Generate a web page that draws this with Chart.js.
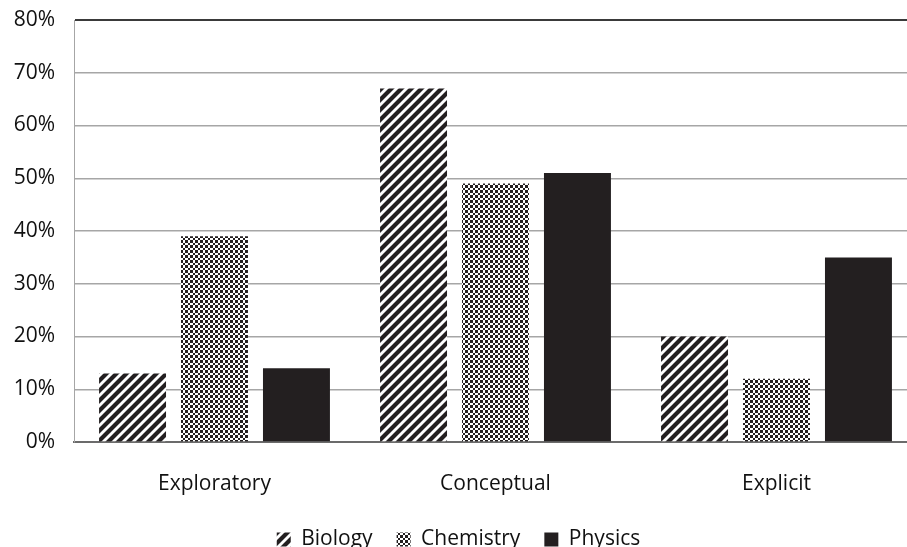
<!DOCTYPE html>
<html>
<head>
<meta charset="utf-8">
<script src="https://cdn.jsdelivr.net/npm/chart.js@4"></script>
<style>
  html, body { margin: 0; padding: 0; background: #fff; overflow: hidden; width: 907px; height: 547px; }
  #wrap { position: absolute; left: 0; top: 0; width: 920px; height: 547px; }
</style>
</head>
<body>
<div id="wrap"><canvas id="c" width="920" height="547"></canvas></div>
<script>
const categories = ['Exploratory', 'Conceptual', 'Explicit'];
const seriesNames = ['Biology', 'Chemistry', 'Physics'];
const biology = [13, 67, 20];
const chemistry = [39, 49, 12];
const physics = [14, 51, 35];
const yTicks = [0, 10, 20, 30, 40, 50, 60, 70, 80];

const INK = '#231f20';

function stripePattern() {
  const P = 10;
  const t = document.createElement('canvas');
  t.width = P; t.height = P;
  const g = t.getContext('2d');
  g.fillStyle = '#fff'; g.fillRect(0, 0, P, P);
  g.strokeStyle = INK; g.lineWidth = 4.2; g.lineCap = 'square';
  g.beginPath();
  g.moveTo(-1, P + 1); g.lineTo(P + 1, -1);
  g.moveTo(-P / 2, P / 2); g.lineTo(P / 2, -P / 2);
  g.moveTo(P / 2, P * 1.5); g.lineTo(P * 1.5, P / 2);
  g.stroke();
  return g.createPattern(t, 'repeat');
}
function checkerPattern() {
  const t = document.createElement('canvas');
  t.width = 10; t.height = 10;
  const g = t.getContext('2d');
  g.fillStyle = '#fff'; g.fillRect(0, 0, 10, 10);
  const b = [[0, 3], [3, 2], [5, 3], [8, 2]];
  for (let i = 0; i < 4; i++) for (let j = 0; j < 4; j++) {
    if ((i + j) % 2 === 0) {
      g.fillStyle = INK;
      g.fillRect(b[i][0], b[j][0], b[i][1], b[j][1]);
    }
  }
  return g.createPattern(t, 'repeat');
}

const FONT = '"Open Sans", Lato, sans-serif';
const TEXT = '#111';

new Chart(document.getElementById('c'), {
  type: 'bar',
  data: {
    labels: categories,
    datasets: [
      { label: seriesNames[0], data: biology, backgroundColor: stripePattern(), borderWidth: 0 },
      { label: seriesNames[1], data: chemistry, backgroundColor: checkerPattern(), borderWidth: 0 },
      { label: seriesNames[2], data: physics, backgroundColor: INK, borderWidth: 0 }
    ]
  },
  options: {
    responsive: false,
    animation: false,
    devicePixelRatio: 1,
    categoryPercentage: 0.875,
    barPercentage: 0.817,
    layout: { padding: { left: 0, right: 3, top: 20, bottom: 0 } },
    plugins: {
      tooltip: { enabled: false },
      legend: {
        position: 'bottom',
        maxHeight: 42,
        labels: {
          font: { family: FONT, size: 21 },
          color: TEXT,
          boxWidth: 14,
          boxHeight: 14,
          padding: 24
        }
      }
    },
    scales: {
      x: {
        grid: { display: false, drawTicks: false },
        border: { display: true, color: '#6b6b6b', width: 2 },
        ticks: { font: { family: FONT, size: 21 }, color: TEXT, padding: 29 },
        afterFit: (s) => { s.height = 63; s.paddingTop = 0; }
      },
      y: {
        min: 0, max: 80,
        afterBuildTicks: (s) => { s.ticks = yTicks.map(v => ({ value: v })); },
        grid: {
          drawTicks: false,
          color: (ctx) => ctx.tick && ctx.tick.value === 80 ? '#3a3a3a' : (ctx.tick && ctx.tick.value === 0 ? '#6b6b6b' : '#a6a6a6'),
          lineWidth: (ctx) => ctx.tick && ctx.tick.value === 80 ? 2 : 1.5
        },
        border: { display: true, color: '#a6a6a6', width: 1 },
        ticks: {
          font: { family: FONT, size: 21 }, color: TEXT, padding: 19,
          callback: (v) => v + '%'
        },
        afterFit: (s) => { s.width = 74; s.paddingTop = 0; s.paddingBottom = 0; }
      }
    }
  }
});
</script>
</body>
</html>
